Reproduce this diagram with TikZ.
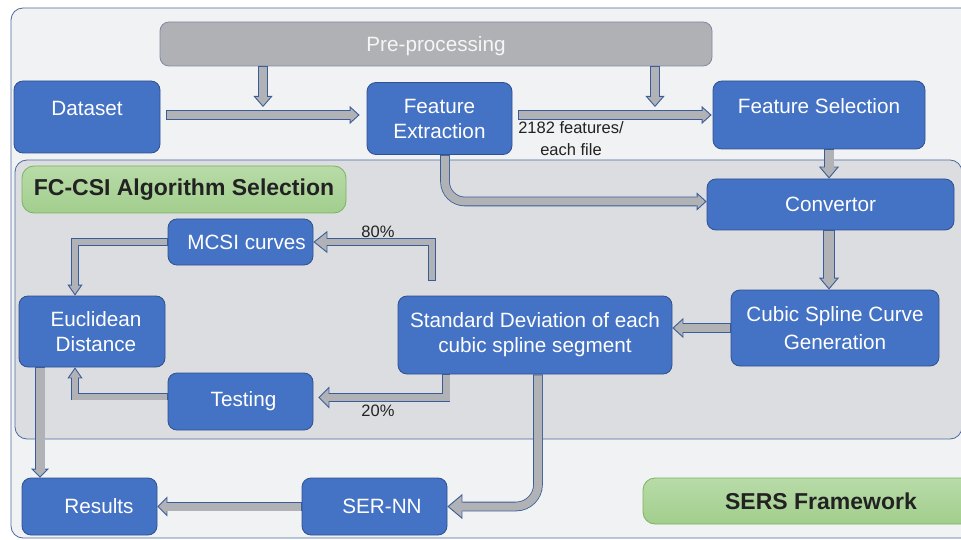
\documentclass[tikz,border=0pt]{standalone}
\usepackage{fontspec}
\setmainfont{Liberation Sans}
\usetikzlibrary{arrows.meta}
\definecolor{boxblue}{HTML}{4472C4}
\definecolor{boxline}{HTML}{2F528F}
\definecolor{arrfill}{HTML}{B1B2B6}
\definecolor{arrline}{HTML}{3A5D97}
\definecolor{outerbg}{HTML}{F1F2F4}
\definecolor{innerbg}{HTML}{DCDDE0}
\definecolor{frameline}{HTML}{4A6A9E}
\definecolor{pregray}{HTML}{B0B1B4}
\definecolor{preline}{HTML}{7F8BA3}
\definecolor{pretext}{HTML}{F6F6F6}
\definecolor{greentop}{HTML}{B8DBA8}
\definecolor{greenbot}{HTML}{A2CE8D}
\definecolor{greenline}{HTML}{79B45C}
\definecolor{txtdark}{HTML}{222222}
\begin{document}
\begin{tikzpicture}[x=1pt,y=-1pt,
  box/.style={draw=boxline, line width=0.8pt, fill=boxblue, rounded corners=9pt,
    text=white, align=center, inner sep=0pt,
    font=\fontsize{20.7pt}{25pt}\selectfont},
  greenbox/.style={draw=greenline, line width=0.8pt, top color=greentop, bottom color=greenbot,
    rounded corners=12pt, text=txtdark, inner sep=0pt,
    font=\bfseries\fontsize{23pt}{27pt}\selectfont},
  lbl/.style={text=txtdark, align=center, inner sep=0pt,
    font=\fontsize{16.5pt}{22pt}\selectfont},
  fat/.style n args={4}{%
    draw=arrfill, line width=#1pt, line join=miter,
    shorten >=#4pt-1.5pt, shorten <=0.9pt,
    preaction={draw=arrfill, line width=1pt, shorten <=0pt, shorten >=0pt,
      -{Triangle[width=#3pt, length=#4pt, fill=arrfill, color=arrline, line width=0.9pt]}},
    preaction={draw=arrline, line width=#2pt, shorten <=0pt, shorten >=#4pt}},
]
\useasboundingbox (0,0) rectangle (961,540);
\clip (0,0) rectangle (961,540);
\fill[white] (0,0) rectangle (961,540);
% frames
\draw[frameline, fill=outerbg, rounded corners=12pt, line width=0.8pt] (11,8) rectangle (1010,538);
\draw[frameline, fill=innerbg, rounded corners=12pt, line width=0.8pt] (15,160) rectangle (962,439);

% nodes
\node[box, fill=pregray, draw=preline, text=pretext, minimum width=552pt, minimum height=44pt, text depth=0pt] (pre) at (436,44) {Pre-processing};
\node[box, minimum width=146pt, minimum height=72pt, text depth=18pt] (ds) at (87,117) {Dataset};
\node[box, minimum width=145pt, minimum height=72pt] (fe) at (439.5,118.5) {Feature\\Extraction};
\node[box, minimum width=212pt, minimum height=68pt, text depth=17pt] (fs) at (819,115) {Feature Selection};
\node[greenbox, minimum width=324pt, minimum height=47pt] (fc) at (184,189.5) {FC-CSI Algorithm Selection};
\node[box, minimum width=247pt, minimum height=51pt] (conv) at (830.5,204.5) {Convertor};
\node[box, minimum width=208pt, minimum height=76pt] (cub) at (835,328) {Cubic Spline Curve\\[3pt]Generation};
\node[box, minimum width=274pt, minimum height=78pt] (std) at (535,335) {Standard Deviation of each\\cubic spline segment};
\node[box, minimum width=145pt, minimum height=46pt] (mcsi) at (240.5,242) {\hspace*{12pt}MCSI curves};
\node[box, minimum width=146pt, minimum height=71pt] (euc) at (92,331.5) {\hspace*{8pt}Euclidean\\\hspace*{8pt}Distance};
\node[box, minimum width=145pt, minimum height=57pt] (test) at (240.5,401.5) {\hspace*{6pt}Testing};
\node[box, minimum width=135pt, minimum height=57pt] (res) at (89.5,506.5) {\hspace*{19pt}Results};
\node[box, minimum width=145pt, minimum height=57pt] (ser) at (374.5,506.5) {\hspace*{15pt}SER-NN};
\node[greenbox, minimum width=356pt, minimum height=46pt] (sers) at (821,501) {SERS Framework};

% labels
\node[lbl] (lab1) at (571,139) {2182 features/\\each file};
\node[lbl] (lab2) at (378,232) {80\%};
\node[lbl] (lab3) at (378,411) {20\%};

% helper coordinates
\coordinate (tipA) at (263,107);
\coordinate (tipB) at (655,107);
\coordinate (c1) at (829,0);
\coordinate (c2) at (445,0);
\coordinate (c3) at (75,0);
\coordinate (c4) at (446,0);
\coordinate (c5) at (40,0);
\coordinate (c6) at (538,0);

% connectors
\draw[fat={8}{9.6}{19}{11}] (pre.south -| tipA) -- (tipA);
\draw[fat={8}{9.6}{19}{11}] (pre.south -| tipB) -- (tipB);
\draw[fat={8}{9.6}{18}{10}] ([shift={(6,-2)}]ds.east) -- ([shift={(-7,-3.5)}]fe.west);
\draw[fat={8}{9.6}{18}{10}] ([shift={(6,-3.5)}]fe.east) -- ([shift={(-1,0)}]fs.west);
\draw[fat={9}{10.6}{20}{12}] (fs.south -| c1) -- (conv.north -| c1);
\draw[fat={10}{11.6}{20}{12}] (conv.south -| c1) -- (cub.north -| c1);
\draw[fat={8}{9.6}{18}{10}, rounded corners=20pt] (fe.south -| c2) |- ([shift={(0,-3)}]conv.west);
\draw[fat={8}{9.6}{20}{11}] (cub.west) -- (std.east |- cub.west);
\draw[fat={6}{7.6}{22}{14}] ([shift={(-103,-15)}]std.north) |- (mcsi.east);
\draw[fat={6}{7.6}{15}{11}] (mcsi.west) -| (euc.north -| c3);
\draw[fat={7}{8.6}{22}{11}] (std.south -| c4) |- ([shift={(5,-4)}]test.east);
\draw[fat={6}{7.6}{15}{11}] ([shift={(0,-5)}]test.west) -| (euc.south -| c3);
\draw[fat={9}{10.6}{18}{9}] (euc.south -| c5) -- (res.north -| c5);
\draw[fat={8}{9.6}{25}{15}, rounded corners=22pt] (std.south -| c6) |- (ser.east);
\draw[fat={8}{9.6}{20}{10}] (ser.west) -- (res.east);
\end{tikzpicture}
\end{document}
